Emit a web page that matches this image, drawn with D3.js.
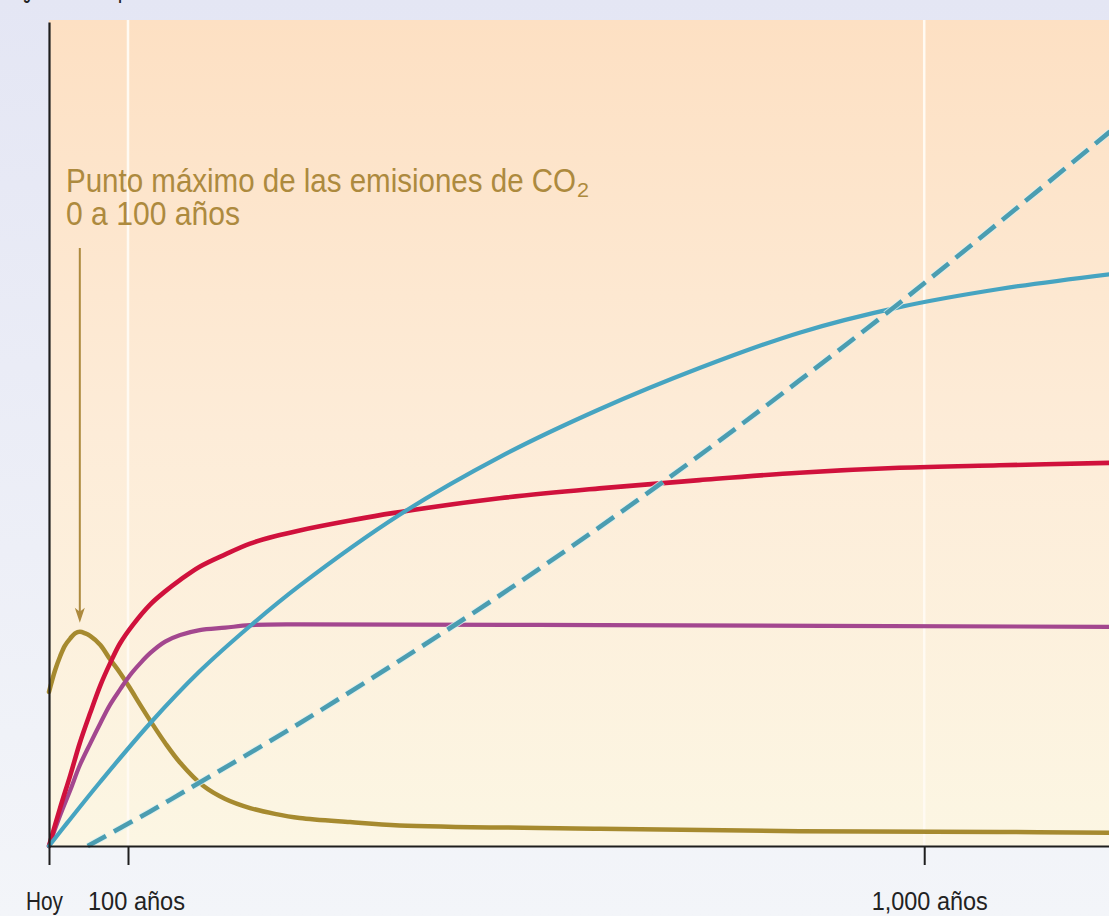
<!DOCTYPE html>
<html>
<head>
<meta charset="utf-8">
<script src="https://cdn.jsdelivr.net/npm/d3@7"></script>
<style>
  body { margin: 0; overflow: hidden; background: #eef0f7; }
  svg { display: block; }
</style>
</head>
<body>
<svg width="1109" height="916"></svg>
<script>
// years since today, magnitude (arbitrary units 0-100)
var emisionesCO2 = [[0,18.7],[7.6,21.3],[14,23.0],[20,24.3],[27,25.2],[33,25.8],[39,26.0],[46,25.8],
  [52,25.5],[65,24.4],[77,22.7],[90,21.0],[102,19.2],[114,17.1],[127,14.9],[142,12.5],[159,10.1],
  [185,7.3],[210,5.7],[238,4.6],[266,3.9],[294,3.4],[351,2.9],[407,2.5],[633,2.1],[859,1.8],[1085,1.7],[1210,1.6]];
var estabilizacionCO2 = [[0,0],[14,4.6],[27,8.6],[39,12.5],[52,16.1],[65,19.5],[77,22.1],[90,24.6],
  [106,26.9],[125,29.3],[142,30.9],[159,32.3],[181,33.9],[210,35.4],[238,36.7],[266,37.6],[294,38.3],
  [351,39.5],[399,40.4],[520,42.2],[633,43.4],[746,44.4],[859,45.3],[972,45.9],[1085,46.2],[1210,46.5]];
var temperatura = [[0,0],[14,3.7],[27,6.8],[39,9.8],[52,12.4],[65,14.9],[77,17.1],[90,19.0],[102,20.7],
  [114,22.2],[125,23.4],[142,24.8],[159,25.6],[181,26.2],[210,26.5],[238,26.8],[294,26.9],[633,26.8],[1210,26.6]];
var dilatacionTermica = [[0,0],[23,2.8],[65,7.8],[125,14.9],[181,21.2],[238,26.7],[294,31.6],[407,40.2],
  [520,47.2],[633,53.0],[746,58.0],[859,62.3],[972,65.4],[1085,67.6],[1210,69.4]];
var fusionHielo = [[49,0],[125,4.2],[181,7.7],[294,14.9],[407,22.5],[520,30.4],[633,38.7],[746,47.4],
  [859,56.5],[972,65.9],[1085,75.7],[1210,86.7]];

var tickYears = [0, 100, 1000];
var tickLabels = ["Hoy", "100 años", "1,000 años"];
var tickShift = [-5, 8, 5];
var tickWidths = [37, 97, 116];

var svg = d3.select("svg"),
    width = +svg.attr("width"),
    height = +svg.attr("height");

var x = d3.scaleLinear().domain([0, 100, 1210]).range([49, 128, 1110]);
var y = d3.scaleLinear().domain([0, 100]).range([846, 22]);

var defs = svg.append("defs");
var pageGrad = defs.append("linearGradient").attr("id", "page").attr("x1", 0).attr("y1", 0).attr("x2", 0).attr("y2", 1);
pageGrad.append("stop").attr("offset", "0%").attr("stop-color", "#e4e6f4");
pageGrad.append("stop").attr("offset", "100%").attr("stop-color", "#f3f5f9");
var plotGrad = defs.append("linearGradient").attr("id", "plotbg").attr("x1", 0).attr("y1", 0).attr("x2", 0).attr("y2", 1);
plotGrad.append("stop").attr("offset", "0%").attr("stop-color", "#fde0c3");
plotGrad.append("stop").attr("offset", "50%").attr("stop-color", "#fdecd8");
plotGrad.append("stop").attr("offset", "100%").attr("stop-color", "#fcf6e3");

svg.append("rect").attr("width", width).attr("height", height).attr("fill", "url(#page)");

// cut-off title at the very top
svg.append("text")
    .attr("x", 5).attr("y", -1)
    .attr("textLength", 155).attr("lengthAdjust", "spacingAndGlyphs")
    .style("font", "bold 20px 'Liberation Sans', Arial, sans-serif")
    .attr("fill", "#222")
    .text("Magnitud de la respuesta");

svg.append("rect")
    .attr("x", x(0)).attr("y", y(100) - 2)
    .attr("width", width - x(0)).attr("height", y(0) - y(100) + 2)
    .attr("fill", "url(#plotbg)");

// white vertical guides
svg.append("g").selectAll("line")
    .data(tickYears.slice(1))
    .enter().append("line")
    .attr("x1", function (d) { return x(d); })
    .attr("x2", function (d) { return x(d); })
    .attr("y1", y(100) - 2).attr("y2", y(0))
    .attr("stroke", "#fffaf2").attr("stroke-width", 2.5);

var line = d3.line()
    .x(function (d) { return x(d[0]); })
    .y(function (d) { return y(d[1]); })
    .curve(d3.curveCatmullRom.alpha(0.5));

var series = [
  { data: emisionesCO2, color: "#a68a2f", w: 4.5 },
  { data: temperatura, color: "#a3478f", w: 4.2 },
  { data: estabilizacionCO2, color: "#d0113c", w: 4.6 },
  { data: dilatacionTermica, color: "#46a4c1", w: 4.2 }
];

svg.append("g").selectAll("path")
    .data(series)
    .enter().append("path")
    .attr("d", function (d) { return line(d.data); })
    .attr("fill", "none")
    .attr("stroke", function (d) { return d.color; })
    .attr("stroke-width", function (d) { return d.w; })
    .attr("stroke-linecap", "round");

// dashed ice-melt line with a light halo
svg.append("path")
    .attr("d", line(fusionHielo))
    .attr("fill", "none")
    .attr("stroke", "#d8f0f0")
    .attr("stroke-width", 6.5)
    .attr("stroke-dasharray", "21,9")
    .attr("opacity", 0.8);
svg.append("path")
    .attr("d", line(fusionHielo))
    .attr("fill", "none")
    .attr("stroke", "#4b9db1")
    .attr("stroke-width", 4.6)
    .attr("stroke-dasharray", "21,9");

// axes
var xAxis = svg.append("g")
    .attr("transform", "translate(0," + y(0) + ")")
    .call(d3.axisBottom(x).tickValues(tickYears).tickSize(19).tickSizeOuter(0)
        .tickFormat(function (d, i) { return tickLabels[i]; }));
xAxis.select(".domain").attr("stroke", "#1e1e1e").attr("stroke-width", 2.2);
xAxis.selectAll(".tick line").attr("stroke", "#1e1e1e").attr("stroke-width", 2);
xAxis.selectAll(".tick text")
    .attr("y", 46)
    .attr("dx", function (d, i) { return tickShift[i]; })
    .attr("textLength", function (d, i) { return tickWidths[i]; })
    .attr("lengthAdjust", "spacingAndGlyphs")
    .attr("fill", "#222")
    .style("font", "25px 'Liberation Sans', Arial, sans-serif");

var yAxis = svg.append("g")
    .attr("transform", "translate(" + x(0) + ",0)")
    .call(d3.axisLeft(y).tickValues([]).tickSizeOuter(0));
yAxis.select(".domain").attr("stroke", "#1e1e1e").attr("stroke-width", 2.2);

// annotation: peak of emissions
var peak = d3.greatest(emisionesCO2, function (d) { return d[1]; });
var ax = x(peak[0]), tip = y(peak[1]) - 9;
var noteFont = "34px 'Liberation Sans', Arial, sans-serif";
var note = svg.append("g").attr("fill", "#ad8a3e");
note.append("text").attr("x", 66).attr("y", 192)
    .attr("textLength", 510).attr("lengthAdjust", "spacingAndGlyphs")
    .style("font", noteFont)
    .text("Punto máximo de las emisiones de CO");
note.append("text").attr("x", 577).attr("y", 197)
    .attr("textLength", 12).attr("lengthAdjust", "spacingAndGlyphs")
    .style("font", "21px 'Liberation Sans', Arial, sans-serif")
    .text("2");
note.append("text").attr("x", 66).attr("y", 225)
    .attr("textLength", 174).attr("lengthAdjust", "spacingAndGlyphs")
    .style("font", noteFont)
    .text("0 a 100 años");
note.append("line")
    .attr("x1", ax).attr("x2", ax).attr("y1", 248).attr("y2", tip - 10)
    .attr("stroke", "#ad8a3e").attr("stroke-width", 2);
note.append("path")
    .attr("d", "M" + (ax - 5) + "," + (tip - 15) + "L" + ax + "," + tip + "L" + (ax + 5) + "," + (tip - 15) + "L" + ax + "," + (tip - 11) + "Z");
</script>
</body>
</html>
